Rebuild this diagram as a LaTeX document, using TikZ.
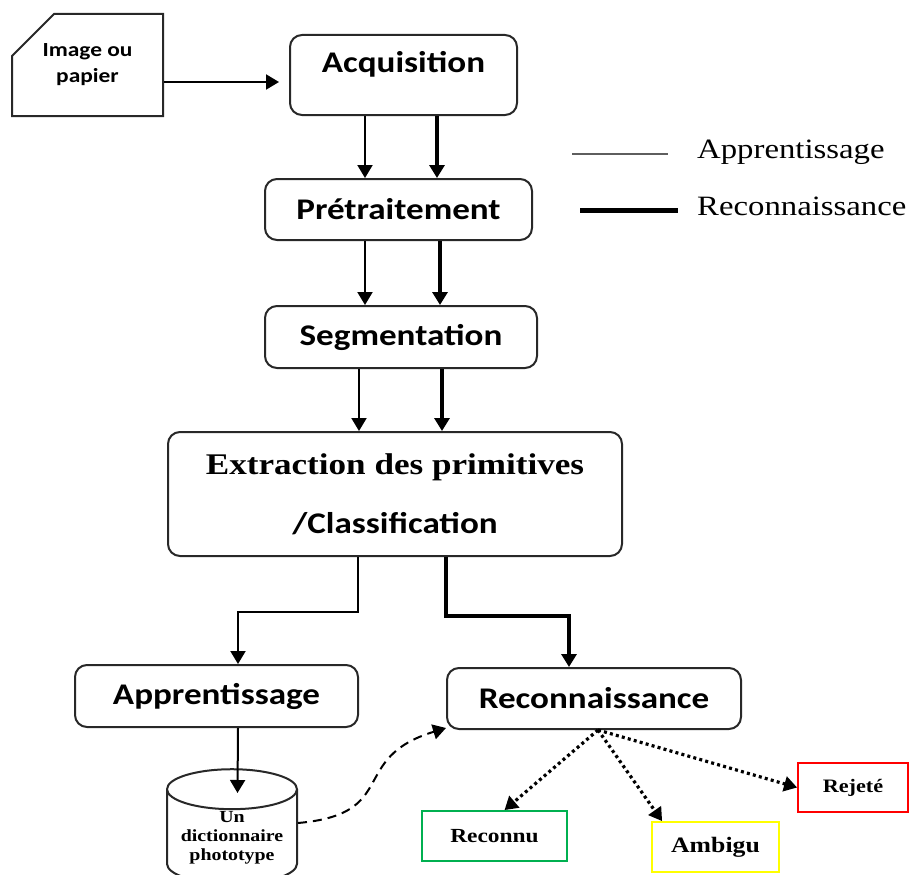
\documentclass[tikz,border=0pt]{standalone}
\usepackage{fontspec}
\setmainfont{Liberation Serif}[FakeStretch=1.17]
\setsansfont{Carlito}[FakeStretch=1.17]
\usetikzlibrary{positioning}
\usetikzlibrary{shapes.geometric, shapes.misc}
\usetikzlibrary{arrows.meta}
\definecolor{okgreen}{RGB}{0,176,80}
\definecolor{ambyellow}{RGB}{255,255,0}
\definecolor{rejred}{RGB}{255,0,0}
\definecolor{edgegray}{RGB}{40,40,40}

\begin{document}
\begin{tikzpicture}[x=1pt, y=-1pt,
				stage/.style={draw=edgegray, rectangle, rounded corners=12pt, line width=2pt, inner sep=0pt,
					font=\sffamily\bfseries\fontsize{30}{36}\selectfont},
				outcome/.style={draw, rectangle, line width=1.8pt, inner sep=0pt,
					font=\rmfamily\bfseries\fontsize{20}{24}\selectfont},
				learn/.style={->, line width=2pt},
				recog/.style={->, line width=3.2pt},
				every text node part/.style={align=center},
				>={Triangle[length=13pt,width=15pt]}]
				\useasboundingbox (0,0) rectangle (911,875);
				
				\node[draw=edgegray, chamfered rectangle, chamfered rectangle corners=north west, chamfered rectangle xsep=31pt, chamfered rectangle ysep=21pt,
					minimum width=151pt, minimum height=102pt, inner sep=0pt, line width=2pt,
					font=\sffamily\bfseries\fontsize{20}{26}\selectfont](doc) at (87.5, 65) {Image ou\\papier};
				\node[stage, minimum width=227pt, minimum height=80pt, text depth=26pt](acq) at (403.5, 75) {Acquisition};
				\node[stage, minimum width=267pt, minimum height=61pt](pre) at (398.5, 209.5) {Prétraitement};
				\node[stage, minimum width=272pt, minimum height=62pt](seg) at (401, 337) {Segmentation};
				\node[stage, minimum width=454pt, minimum height=124pt, font=\sffamily\bfseries\fontsize{30}{59}\selectfont](ext) at (395, 494)
					{{\rmfamily Extraction des primitives}\\/Classification};
				\node[stage, minimum width=283pt, minimum height=62pt](app) at (216.5, 696) {Apprentissage};
				\node[stage, minimum width=294pt, minimum height=61pt](rec) at (594, 698.5) {Reconnaissance};
				
				\node[draw=edgegray, cylinder, shape border rotate=90, aspect=0.39, minimum width=130pt, minimum height=88pt, inner sep=0pt, line width=2pt,
					text height=50pt, font=\rmfamily\bfseries\fontsize{17}{19}\selectfont](dict) at (232, 837) {Un\\dictionnaire\\phototype};
				
				\node[outcome, draw=okgreen, minimum width=145pt, minimum height=50pt](reco) at (494.5, 836) {Reconnu};
				\node[outcome, draw=ambyellow, minimum width=127pt, minimum height=50pt, font=\rmfamily\bfseries\fontsize{22}{24}\selectfont](amb) at (715.5, 847) {Ambigu};
				\node[outcome, draw=rejred, minimum width=110pt, minimum height=49pt, font=\rmfamily\bfseries\fontsize{19}{24}\selectfont](rej) at (853, 787.5) {Rejeté};
				
				% legende
				\node[anchor=base west, inner sep=0pt, font=\rmfamily\fontsize{28}{30}\selectfont](legapp) at (697, 158) {Apprentissage};
				\node[anchor=base west, inner sep=0pt, font=\rmfamily\fontsize{28}{30}\selectfont](legrec) at (697, 215) {Reconnaissance};
				\draw[line width=2.2pt, edgegray!75] (572, 154) -- (668, 154);
				\draw[line width=5pt] (580, 210) -- (678, 210);
				
				\draw[learn, shorten >=10pt] ([yshift=-17pt]doc.east) -- ([yshift=-17pt]doc.east -| acq.west);
				
				\draw[learn] (acq.south -| 365,0) -- (pre.north -| 365,0);
				\draw[recog] (acq.south -| 437,0) -- (pre.north -| 437,0);
				\draw[learn] (pre.south -| 365,0) -- (seg.north -| 365,0);
				\draw[recog] (pre.south -| 440,0) -- (seg.north -| 440,0);
				\draw[learn] (seg.south -| 359,0) -- (ext.north -| 359,0);
				\draw[recog] (seg.south -| 442,0) -- (ext.north -| 442,0);
				
				\draw[learn] (ext.south -| 358,0) -- ++(0,55) -| (app.north -| 238,0);
				\draw[recog] (ext.south -| 446,0) -- ++(0,59) -| (rec.north -| 569,0);
				\draw[learn] (app.south -| 238,0) -- (237.5,793);
				
				\draw[->, line width=2pt, dash pattern=on 9pt off 6pt] ([yshift=14pt]dict.east) to[out=5, in=197, looseness=1.5] ([shift={(0pt,2pt)}]rec.south west);
				
				\coordinate (split) at ([xshift=4pt]rec.south);
				\draw[->, line width=3.2pt, dash pattern=on 3pt off 3.2pt] (split) -- ([xshift=10pt]reco.north);
				\draw[->, line width=3.2pt, dash pattern=on 3pt off 3.2pt] (split) -- ([xshift=11pt]amb.north west);
				\draw[->, line width=3.2pt, dash pattern=on 3pt off 3.2pt] (split) -- (rej.west);
			\end{tikzpicture}
\end{document}
